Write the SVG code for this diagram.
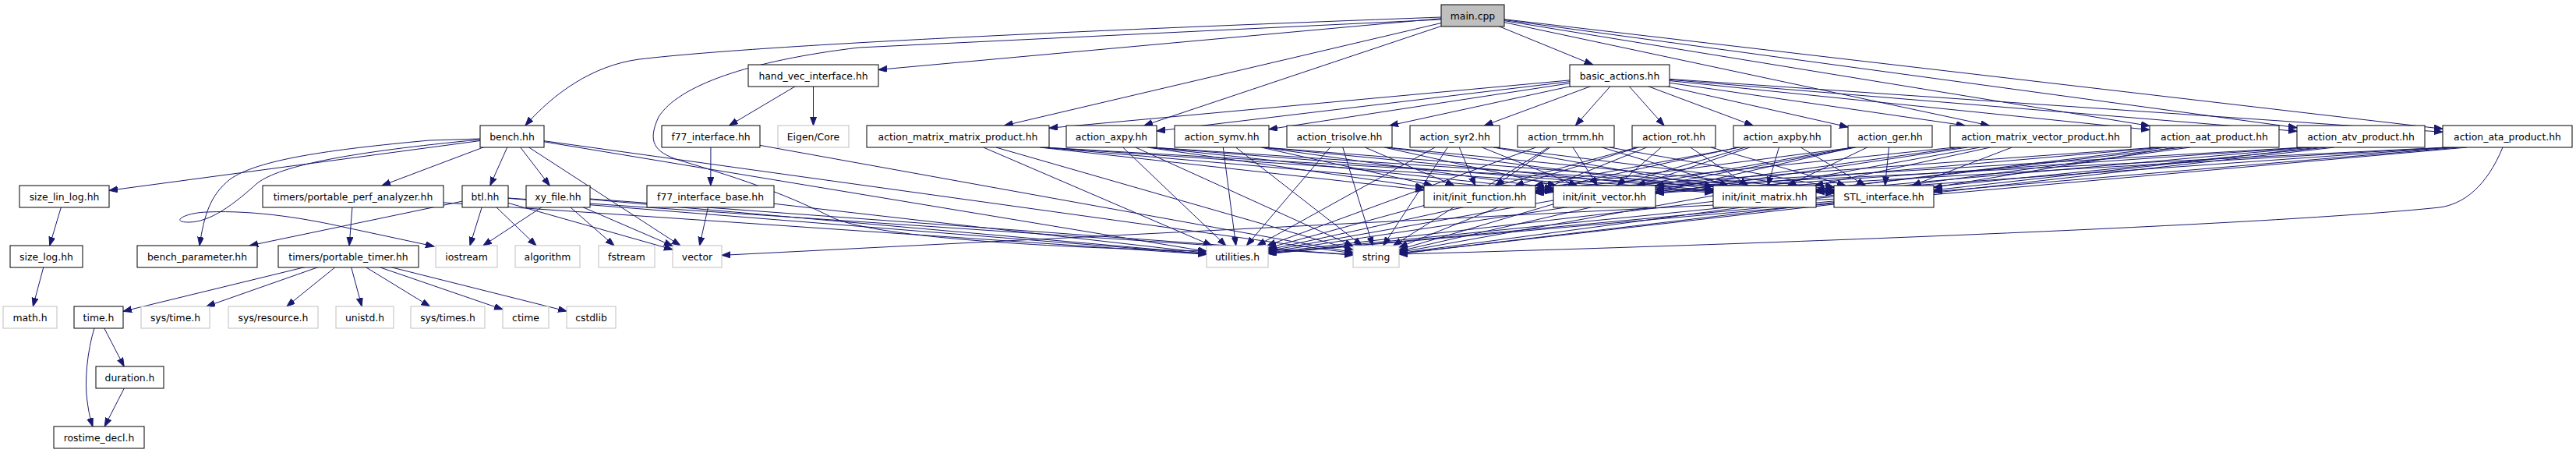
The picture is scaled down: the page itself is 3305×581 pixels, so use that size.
<svg xmlns="http://www.w3.org/2000/svg" width="3305" height="581" viewBox="0 0 3305 581">
<style>
rect{fill:#fff;stroke:#000;stroke-width:1}
.g rect{stroke:#bfbfbf}
.m rect{fill:#bfbfbf}
text{font-family:"DejaVu Sans","Liberation Sans",sans-serif;font-size:12.4px;fill:#000;text-anchor:middle}
#edges path{fill:none;stroke:#191970;stroke-width:1;marker-end:url(#a)}
</style>
<defs>
<marker id="a" markerUnits="userSpaceOnUse" markerWidth="12" markerHeight="9" refX="11" refY="4" orient="auto"><path d="M0,0 L11,4 L0,8 z" fill="#191970" stroke="#191970" stroke-width="1"/></marker>
</defs>
<rect x="0" y="0" width="3305" height="581" style="fill:#fff;stroke:none"/>
<g id="edges">
<path d="M1849,22 C1500,35 1000,55 820,76 C760,84 710,120 674,161"/>
<path d="M1849,25 L1102,61 C960,78 870,110 845,150 C830,182 840,195 870,205 C960,232 1010,250 1070,280 C1130,305 1350,318 1548,322"/>
<path d="M1889.5,20 L1127,89.4"/>
<path d="M1889.5,20 L1288.7,161"/>
<path d="M1889.5,20 L1467.9,161"/>
<path d="M1889.5,20 L2043.7,83"/>
<path d="M1889.5,20 L2552.2,161"/>
<path d="M1889.5,20 L2758,161.5"/>
<path d="M1889.5,20 L2947,163.8"/>
<path d="M1889.5,20 L3134,165.3"/>
<path d="M1043.5,97 L935.6,161"/>
<path d="M1043.5,97 L1043.5,161"/>
<path d="M912,175 L911.8,238"/>
<path d="M912,175 L1736,323.7"/>
<path d="M911.5,252 L897.6,315"/>
<path d="M911.5,252 L1548,324.5"/>
<path d="M657,175 L140,244.3"/>
<path d="M657,175 L490.1,238"/>
<path d="M616,178 L551,180 C420,192 330,205 295,230 C270,250 262,275 256,315"/>
<path d="M616,179 C450,195 360,212 330,235 C300,262 270,285 242,285 C218,285 236,273 265,272 C330,269 400,282 440,291 L557,316"/>
<path d="M657,175 L628.8,238"/>
<path d="M657,175 L705.3,238"/>
<path d="M657,175 L872.9,315"/>
<path d="M657,175 L1548,322.5"/>
<path d="M657,175 L1736,324.9"/>
<path d="M622.5,252 L320.2,315"/>
<path d="M622.5,252 L602.9,315"/>
<path d="M622.5,252 L688,315"/>
<path d="M622.5,252 L863,320.1"/>
<path d="M622.5,252 L1736,327"/>
<path d="M622.5,252 L1548,325.8"/>
<path d="M716,252 L619.9,315"/>
<path d="M716,252 L788,315"/>
<path d="M716,252 L863,315.4"/>
<path d="M716,252 L1736,326.8"/>
<path d="M716,252 L1548,325.5"/>
<path d="M82.5,252 L63.7,315"/>
<path d="M59.5,329 L42.3,393"/>
<path d="M453,252 L448.1,315"/>
<path d="M453,252 L1548,326.3"/>
<path d="M447,329 L158,399.3"/>
<path d="M447,329 L264.8,393"/>
<path d="M447,329 L367.8,393"/>
<path d="M447,329 L464.2,393"/>
<path d="M447,329 L551.6,393"/>
<path d="M447,329 L645,396.9"/>
<path d="M447,329 L727,399.1"/>
<path d="M126.5,407 L159.2,470"/>
<path d="M121,421 C112,450 108,490 112,515 C114,530 116,538 119,547"/>
<path d="M166.5,484 L134.2,547"/>
<path d="M2417,252 L1627,325.3"/>
<path d="M2417,252 L1795,325.5"/>
<path d="M2417,252 L926,327.4"/>
<path d="M2078,97 L1346,164.3"/>
<path d="M2078,97 L1484,168.1"/>
<path d="M2078,97 L1628,165.8"/>
<path d="M2078,97 L1783,161"/>
<path d="M2078,97 L1904.5,161"/>
<path d="M2078,97 L2021.4,161"/>
<path d="M2078,97 L2135,161"/>
<path d="M2078,97 L2249.1,161"/>
<path d="M2078,97 L2371,162.9"/>
<path d="M2078,97 L2521.1,161"/>
<path d="M2078,97 L2758,166.5"/>
<path d="M2078,97 L2947,168.3"/>
<path d="M2078,97 L3134,169.3"/>
<path d="M1334,189 L1827,243.8"/><path d="M1337,189 L1993,245.9"/><path d="M1339,189 L2198,247.1"/><path d="M1340,189 L2353,247.9"/><path d="M1261.6,189 L1554.9,315"/><path d="M1277.8,189 L1736,320.5"/>
<path d="M1472,189 L1827,240.3"/><path d="M1475,189 L1993,244"/><path d="M1477,189 L2198,245.9"/><path d="M1478,189 L2353,247"/><path d="M1440.7,189 L1572.8,315"/><path d="M1456.9,189 L1736,315.6"/>
<path d="M1618,189 L1838.3,238"/><path d="M1620,189 L1993,241.7"/><path d="M1621,189 L2198,244.7"/><path d="M1622,189 L2353,246.2"/><path d="M1569.3,189 L1585.7,315"/><path d="M1585.5,189 L1747.5,315"/>
<path d="M1751.3,189 L1865.8,238"/><path d="M1776,189 L1996.7,238"/><path d="M1778,189 L2198,242.7"/><path d="M1780,189 L2353,244.9"/><path d="M1706.6,189 L1599.4,315"/><path d="M1722.8,189 L1761.2,315"/>
<path d="M1872.3,189 L1892.7,238"/><path d="M1901.4,189 L2023.6,238"/><path d="M1916,189 L2198,239.2"/><path d="M1918,189 L2353,243"/><path d="M1841.1,189 L1612.9,315"/><path d="M1857.3,189 L1774.7,315"/>
<path d="M1988.9,189 L1918.6,238"/><path d="M2018,189 L2049.5,238"/><path d="M2055.4,189 L2217.6,238"/><path d="M2065,189 L2353,239.9"/><path d="M1970.6,189 L1625.8,315"/><path d="M1986.8,189 L1787.6,315"/>
<path d="M2102.2,189 L1943.8,238"/><path d="M2131.3,189 L2074.7,238"/><path d="M2168.7,189 L2242.8,238"/><path d="M2195,189 L2368,238"/><path d="M2100,189 L1627,318.1"/><path d="M2112.7,189 L1795,317.1"/>
<path d="M2232,189 L1969,238"/><path d="M2245,189 L2100,238"/><path d="M2282.4,189 L2268.1,238"/><path d="M2310.3,189 L2393.3,238"/><path d="M2230,189 L1627,320.3"/><path d="M2239.1,189 L1795,320.3"/>
<path d="M2379,189 L1970,241.5"/><path d="M2381,189 L2124,238.2"/><path d="M2395.7,189 L2293.3,238"/><path d="M2423.5,189 L2418.5,238"/><path d="M2377,189 L1627,321.7"/><path d="M2378,189 L1795,322.1"/>
<path d="M2508,189 L1970,244.3"/><path d="M2516.2,189 L2124,243"/><path d="M2553.6,189 L2328.4,238"/><path d="M2581.4,189 L2453.5,238"/><path d="M2524.2,189 L1627,323.1"/><path d="M2540.4,189 L1795,323.7"/>
<path d="M2768,189 L1970,246.2"/><path d="M2774,189 L2124,245.6"/><path d="M2780,189 L2330,243.2"/><path d="M2790,189 L2481,240.4"/><path d="M2800,189 L1627,324.1"/><path d="M2810,189 L1795,324.8"/>
<path d="M2955,189 L1970,247.1"/><path d="M2960,189 L2124,246.8"/><path d="M2966,189 L2330,245.4"/><path d="M2975,189 L2481,243.9"/><path d="M2985,189 L1627,324.8"/><path d="M2995,189 L1795,325.4"/>
<path d="M3138,189 L1970,247.8"/><path d="M3143,189 L2124,247.6"/><path d="M3148,189 L2330,246.7"/><path d="M3155,189 L2481,245.8"/><path d="M3165,189 L1627,325.3"/>
<path d="M3211,189 C3190,240 3160,262 3130,266 C2900,290 2200,315 1795,326"/>
</g>
<g id="n-main" class="m"><rect x="1849" y="6" width="81" height="28"/><text x="1889.5" y="24.5">main.cpp</text></g>
<g id="n-hand_vec"><rect x="960" y="83" width="167" height="28"/><text x="1043.5" y="101.5">hand_vec_interface.hh</text></g>
<g id="n-basic_actions"><rect x="2014" y="83" width="128" height="28"/><text x="2078" y="101.5">basic_actions.hh</text></g>
<g id="n-bench"><rect x="616" y="161" width="82" height="28"/><text x="657" y="179.5">bench.hh</text></g>
<g id="n-f77_interface"><rect x="849" y="161" width="126" height="28"/><text x="912" y="179.5">f77_interface.hh</text></g>
<g id="n-eigen_core" class="g"><rect x="998" y="161" width="91" height="28"/><text x="1043.5" y="179.5">Eigen/Core</text></g>
<g id="n-action_mmp"><rect x="1112" y="161" width="234" height="28"/><text x="1229" y="179.5">action_matrix_matrix_product.hh</text></g>
<g id="n-action_axpy"><rect x="1368" y="161" width="116" height="28"/><text x="1426" y="179.5">action_axpy.hh</text></g>
<g id="n-action_symv"><rect x="1507" y="161" width="121" height="28"/><text x="1567.5" y="179.5">action_symv.hh</text></g>
<g id="n-action_trisolve"><rect x="1651" y="161" width="135" height="28"/><text x="1718.5" y="179.5">action_trisolve.hh</text></g>
<g id="n-action_syr2"><rect x="1809" y="161" width="115" height="28"/><text x="1866.5" y="179.5">action_syr2.hh</text></g>
<g id="n-action_trmm"><rect x="1947" y="161" width="124" height="28"/><text x="2009" y="179.5">action_trmm.hh</text></g>
<g id="n-action_rot"><rect x="2094" y="161" width="107" height="28"/><text x="2147.5" y="179.5">action_rot.hh</text></g>
<g id="n-action_axpby"><rect x="2224" y="161" width="125" height="28"/><text x="2286.5" y="179.5">action_axpby.hh</text></g>
<g id="n-action_ger"><rect x="2371" y="161" width="108" height="28"/><text x="2425" y="179.5">action_ger.hh</text></g>
<g id="n-action_mvp"><rect x="2502" y="161" width="232" height="28"/><text x="2618" y="179.5">action_matrix_vector_product.hh</text></g>
<g id="n-action_aat"><rect x="2758" y="161" width="166" height="28"/><text x="2841" y="179.5">action_aat_product.hh</text></g>
<g id="n-action_atv"><rect x="2947" y="161" width="164" height="28"/><text x="3029" y="179.5">action_atv_product.hh</text></g>
<g id="n-action_ata"><rect x="3134" y="161" width="166" height="28"/><text x="3217" y="179.5">action_ata_product.hh</text></g>
<g id="n-size_lin_log"><rect x="25" y="238" width="115" height="28"/><text x="82.5" y="256.5">size_lin_log.hh</text></g>
<g id="n-perf_analyzer"><rect x="337" y="238" width="232" height="28"/><text x="453" y="256.5">timers/portable_perf_analyzer.hh</text></g>
<g id="n-btl"><rect x="593" y="238" width="59" height="28"/><text x="622.5" y="256.5">btl.hh</text></g>
<g id="n-xy_file"><rect x="675" y="238" width="82" height="28"/><text x="716" y="256.5">xy_file.hh</text></g>
<g id="n-f77_interface_base"><rect x="830" y="238" width="163" height="28"/><text x="911.5" y="256.5">f77_interface_base.hh</text></g>
<g id="n-init_function"><rect x="1827" y="238" width="143" height="28"/><text x="1898.5" y="256.5">init/init_function.hh</text></g>
<g id="n-init_vector"><rect x="1993" y="238" width="131" height="28"/><text x="2058.5" y="256.5">init/init_vector.hh</text></g>
<g id="n-init_matrix"><rect x="2198" y="238" width="132" height="28"/><text x="2264" y="256.5">init/init_matrix.hh</text></g>
<g id="n-stl_interface"><rect x="2353" y="238" width="128" height="28"/><text x="2417" y="256.5">STL_interface.hh</text></g>
<g id="n-size_log"><rect x="13" y="315" width="93" height="28"/><text x="59.5" y="333.5">size_log.hh</text></g>
<g id="n-bench_parameter"><rect x="176" y="315" width="154" height="28"/><text x="253" y="333.5">bench_parameter.hh</text></g>
<g id="n-portable_timer"><rect x="357" y="315" width="180" height="28"/><text x="447" y="333.5">timers/portable_timer.hh</text></g>
<g id="n-iostream" class="g"><rect x="559" y="315" width="79" height="28"/><text x="598.5" y="333.5">iostream</text></g>
<g id="n-algorithm" class="g"><rect x="661" y="315" width="83" height="28"/><text x="702.5" y="333.5">algorithm</text></g>
<g id="n-fstream" class="g"><rect x="768" y="315" width="72" height="28"/><text x="804" y="333.5">fstream</text></g>
<g id="n-vector" class="g"><rect x="863" y="315" width="63" height="28"/><text x="894.5" y="333.5">vector</text></g>
<g id="n-utilities" class="g"><rect x="1548" y="315" width="79" height="28"/><text x="1587.5" y="333.5">utilities.h</text></g>
<g id="n-string" class="g"><rect x="1736" y="315" width="59" height="28"/><text x="1765.5" y="333.5">string</text></g>
<g id="n-math" class="g"><rect x="4" y="393" width="69" height="28"/><text x="38.5" y="411.5">math.h</text></g>
<g id="n-time"><rect x="95" y="393" width="63" height="28"/><text x="126.5" y="411.5">time.h</text></g>
<g id="n-sys_time" class="g"><rect x="181" y="393" width="88" height="28"/><text x="225" y="411.5">sys/time.h</text></g>
<g id="n-sys_resource" class="g"><rect x="293" y="393" width="115" height="28"/><text x="350.5" y="411.5">sys/resource.h</text></g>
<g id="n-unistd" class="g"><rect x="431" y="393" width="74" height="28"/><text x="468" y="411.5">unistd.h</text></g>
<g id="n-sys_times" class="g"><rect x="527" y="393" width="95" height="28"/><text x="574.5" y="411.5">sys/times.h</text></g>
<g id="n-ctime" class="g"><rect x="645" y="393" width="59" height="28"/><text x="674.5" y="411.5">ctime</text></g>
<g id="n-cstdlib" class="g"><rect x="727" y="393" width="63" height="28"/><text x="758.5" y="411.5">cstdlib</text></g>
<g id="n-duration"><rect x="123" y="470" width="87" height="28"/><text x="166.5" y="488.5">duration.h</text></g>
<g id="n-rostime_decl"><rect x="69" y="547" width="116" height="28"/><text x="127" y="565.5">rostime_decl.h</text></g>
</svg>
